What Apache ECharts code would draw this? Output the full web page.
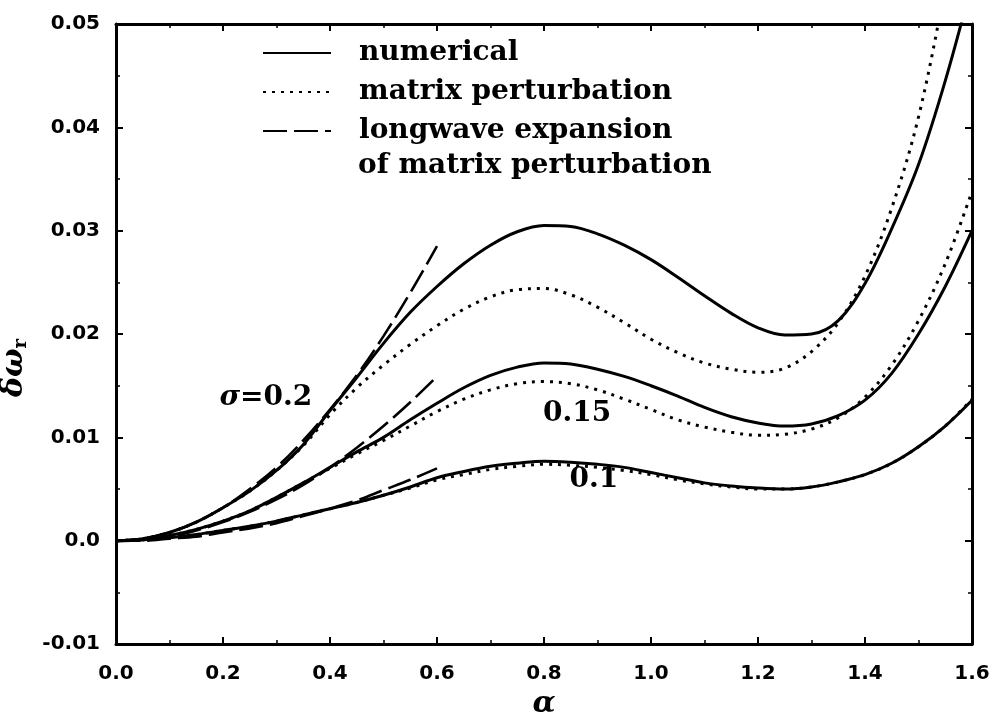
<!DOCTYPE html>
<html>
<head>
<meta charset="utf-8">
<script src="https://cdn.jsdelivr.net/npm/echarts@6/dist/echarts.min.js"></script>
<style>
  html, body { margin: 0; padding: 0; background: #fff; }
  #chart { width: 995px; height: 724px; }
</style>
</head>
<body>
<div id="chart"></div>
<script>
// wavenumber grid for the full curves
const alpha = [0, 0.05, 0.1, 0.15, 0.2, 0.25, 0.3, 0.35, 0.4, 0.45, 0.5, 0.55, 0.6, 0.65, 0.7, 0.75, 0.8,
  0.85, 0.9, 0.95, 1.0, 1.05, 1.1, 1.15, 1.2, 1.25, 1.3, 1.35, 1.4, 1.45, 1.5, 1.55, 1.6];
// wavenumber grid for the longwave expansion
const alphaShort = [0, 0.05, 0.1, 0.15, 0.2, 0.25, 0.3, 0.35, 0.4, 0.45, 0.5, 0.55, 0.6];

// numerical results
const num020 = [0, 0.0002, 0.0008, 0.0018, 0.0032, 0.0048, 0.0068, 0.0093, 0.0126, 0.0158, 0.0191, 0.0221, 0.0246,
  0.0268, 0.0286, 0.0299, 0.0305, 0.0304, 0.0297, 0.0286, 0.0272, 0.0255, 0.0237, 0.0220, 0.0206, 0.0199, 0.0200,
  0.0213, 0.0249, 0.0302, 0.0364, 0.0445, 0.0540];
const num015 = [0, 0.0001, 0.0005, 0.0011, 0.0019, 0.0029, 0.0042, 0.0056, 0.0071, 0.0086, 0.0100, 0.0117, 0.0133,
  0.0148, 0.0160, 0.0168, 0.0172, 0.0171, 0.0166, 0.0159, 0.0150, 0.0140, 0.0129, 0.0120, 0.0114, 0.0111, 0.0113,
  0.0121, 0.0136, 0.0162, 0.0200, 0.0246, 0.0300];
const num010 = [0, 0.0001, 0.0003, 0.0006, 0.0010, 0.0014, 0.0019, 0.0025, 0.0031, 0.0037, 0.0044, 0.0052, 0.0061,
  0.0067, 0.0072, 0.0075, 0.0077, 0.0076, 0.0074, 0.0071, 0.0066, 0.0061, 0.0056, 0.0053, 0.0051, 0.0050, 0.0052,
  0.0057, 0.0064, 0.0075, 0.0091, 0.0111, 0.0136];

// matrix perturbation results
const mat020 = [0, 0.0002, 0.0008, 0.0018, 0.0032, 0.0048, 0.0068, 0.0092, 0.0122, 0.0148, 0.0170, 0.0190, 0.0208,
  0.0224, 0.0236, 0.0243, 0.0244, 0.0238, 0.0226, 0.0211, 0.0195, 0.0182, 0.0172, 0.0166, 0.0163, 0.0167, 0.0183,
  0.0211, 0.0256, 0.0322, 0.0410, 0.0535, 0.0670];
const mat015 = [0, 0.0001, 0.0005, 0.0011, 0.0019, 0.0029, 0.0042, 0.0056, 0.0070, 0.0084, 0.0097, 0.0111, 0.0125,
  0.0137, 0.0146, 0.0152, 0.0154, 0.0152, 0.0146, 0.0137, 0.0127, 0.0117, 0.0110, 0.0105, 0.0102, 0.0103, 0.0108,
  0.0119, 0.0139, 0.0170, 0.0213, 0.0268, 0.0338];
const mat010 = [0, 0.0001, 0.0003, 0.0006, 0.0010, 0.0014, 0.0019, 0.0025, 0.0031, 0.0037, 0.0044, 0.0051, 0.0059,
  0.0064, 0.0069, 0.0072, 0.0074, 0.0073, 0.0071, 0.0068, 0.0064, 0.0059, 0.0055, 0.0052, 0.0050, 0.0050, 0.0052,
  0.0057, 0.0064, 0.0075, 0.0091, 0.0111, 0.0137];

// longwave expansion of the matrix perturbation
const lw020 = [0, 0.0002, 0.0008, 0.0018, 0.0032, 0.0050, 0.0071, 0.0097, 0.0127, 0.0160, 0.0198, 0.0240, 0.0285];
const lw015 = [0, 0.0001, 0.0004, 0.0010, 0.0018, 0.0028, 0.0040, 0.0054, 0.0071, 0.0090, 0.0111, 0.0134, 0.0159];
const lw010 = [0, 0.0000, 0.0002, 0.0004, 0.0008, 0.0012, 0.0017, 0.0024, 0.0031, 0.0039, 0.0049, 0.0059, 0.0070];

const seriesNames = ['numerical', 'matrix perturbation', 'longwave expansion'];
const legendExtra = 'of matrix perturbation';
const sigmaSymbol = 'σ';
const sigmaValues = ['=0.2', '0.15', '0.1'];

const pairs = (xs, ys) => xs.map((x, i) => [x, ys[i]]);

const SERIF = '"DejaVu Serif", serif';
const SANS = '"DejaVu Sans", sans-serif';

const solidStyle = { color: '#000', width: 3, type: 'solid' };
const dotStyle = { color: '#000', width: 3, type: [3, 6] };
const dashStyle = { color: '#000', width: 2.6, type: [24, 7] };

function line(name, data, style) {
  return {
    type: 'line', name, data, symbol: 'none', smooth: 0.35,
    lineStyle: style, itemStyle: { color: '#000' }, silent: true, animation: false, clip: true
  };
}

const axisCommon = {
  type: 'value',
  splitLine: { show: false },
  axisLine: { show: true, onZero: false, lineStyle: { color: '#000', width: 3 } },
  axisTick: { show: true, inside: true, length: 7, lineStyle: { color: '#000', width: 2 } },
  minorTick: { show: true, splitNumber: 2, length: 4, lineStyle: { color: '#000', width: 1.5 } },
  minorSplitLine: { show: false }
};
const tickFont = { fontFamily: SANS, fontWeight: 'bold', fontSize: 20, color: '#000' };

const chart = echarts.init(document.getElementById('chart'), null, { renderer: 'canvas' });
chart.setOption({
  backgroundColor: '#fff',
  animation: false,
  grid: { left: 116, right: 23, top: 24, bottom: 61, containLabel: false },
  xAxis: [
    Object.assign({}, axisCommon, {
      position: 'bottom', min: 0, max: 1.6, interval: 0.2,
      axisLabel: Object.assign({ margin: 20, formatter: v => v.toFixed(1) }, tickFont),
      name: 'α', nameLocation: 'middle', nameGap: 41,
      nameTextStyle: { fontFamily: SERIF, fontStyle: 'italic', fontWeight: 'bold', fontSize: 30, color: '#000' }
    }),
    Object.assign({}, axisCommon, {
      position: 'top', min: 0, max: 1.6, interval: 0.2, axisLabel: { show: false }
    })
  ],
  yAxis: [
    Object.assign({}, axisCommon, {
      position: 'left', min: -0.01, max: 0.05, interval: 0.01,
      axisLabel: Object.assign({ margin: 16,
        formatter: v => Math.abs(v) < 1e-9 ? '0.0' : v.toFixed(2) }, tickFont)
    }),
    Object.assign({}, axisCommon, {
      position: 'right', min: -0.01, max: 0.05, interval: 0.01, axisLabel: { show: false }
    })
  ],
  legend: {
    show: true, orient: 'vertical', left: 262, top: 39, padding: 0,
    itemWidth: 68, itemHeight: 26, itemGap: 11,
    selectedMode: false, data: seriesNames,
    itemStyle: { opacity: 0 },
    textStyle: { fontFamily: SERIF, fontWeight: 'bold', fontSize: 28, color: '#000', padding: [0, 0, 0, 23] }
  },
  series: [
    line(seriesNames[0], pairs(alpha, num020), solidStyle),
    line(seriesNames[0], pairs(alpha, num015), solidStyle),
    line(seriesNames[0], pairs(alpha, num010), solidStyle),
    line(seriesNames[1], pairs(alpha, mat020), dotStyle),
    line(seriesNames[1], pairs(alpha, mat015), dotStyle),
    line(seriesNames[1], pairs(alpha, mat010), dotStyle),
    line(seriesNames[2], pairs(alphaShort, lw020), dashStyle),
    line(seriesNames[2], pairs(alphaShort, lw015), dashStyle),
    line(seriesNames[2], pairs(alphaShort, lw010), dashStyle)
  ]
});

// curve annotations placed in data coordinates
const tagFont = { fontFamily: SERIF, fontWeight: 'bold', fontSize: 28, fill: '#000' };
const tagAt = (a, v) => chart.convertToPixel({ xAxisIndex: 0, yAxisIndex: 0 }, [a, v]);
const tags = [
  { at: tagAt(0.28, 0.0138), text: '{i|' + sigmaSymbol + '}{n|' + sigmaValues[0] + '}' },
  { at: tagAt(0.862, 0.0123), text: '{n|' + sigmaValues[1] + '}' },
  { at: tagAt(0.893, 0.0059), text: '{n|' + sigmaValues[2] + '}' }
];
chart.setOption({
  graphic: [
    { type: 'text', left: 358, top: 152, silent: true,
      style: { text: legendExtra, font: 'bold 28px "DejaVu Serif", serif', fill: '#000' } },
    { type: 'text', x: 14, y: 368, rotation: Math.PI / 2, silent: true,
      style: {
        text: '{a|δω}{s|r}', align: 'center', verticalAlign: 'middle',
        rich: {
          a: { fontFamily: SERIF, fontWeight: 'bold', fontStyle: 'italic', fontSize: 30, fill: '#000' },
          s: { fontFamily: SERIF, fontWeight: 'bold', fontSize: 18, fill: '#000', padding: [14, 0, 0, 0] }
        }
      } }
  ].concat(tags.map(t => ({
    type: 'text', x: t.at[0], y: t.at[1], silent: true,
    style: {
      text: t.text, align: 'center', verticalAlign: 'middle',
      rich: { i: Object.assign({}, tagFont, { fontStyle: 'italic' }), n: tagFont }
    }
  })))
});
</script>
</body>
</html>
